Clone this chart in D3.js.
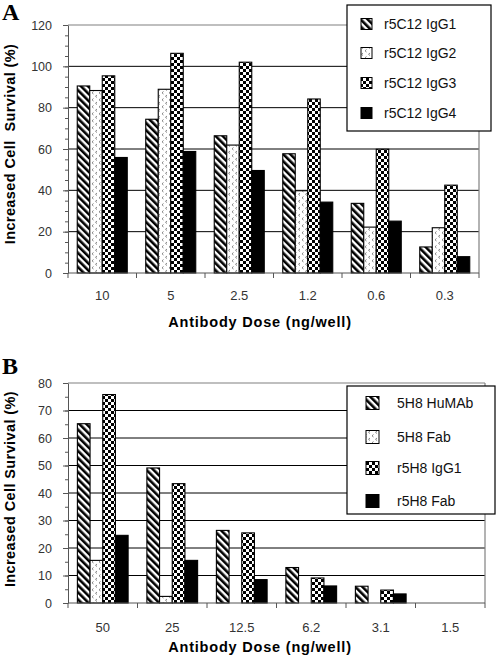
<!DOCTYPE html>
<html><head><meta charset="utf-8">
<script src="https://cdn.jsdelivr.net/npm/d3@7"></script>
<style>body{margin:0;background:#fff}svg{display:block}</style>
</head><body>
<svg id="c" width="500" height="658"></svg>
<script>
// ---- Data ----
const catsA = ["10", "5", "2.5", "1.2", "0.6", "0.3"];
const seriesA = ["r5C12 IgG1", "r5C12 IgG2", "r5C12 IgG3", "r5C12 IgG4"];
const igg1A = [90.5, 74.4, 66.4, 57.7, 33.7, 12.6];
const igg2A = [88.3, 88.9, 61.9, 39.8, 22.2, 21.9];
const igg3A = [95.4, 106.3, 102, 84.2, 59.9, 42.5];
const igg4A = [55.9, 58.8, 49.6, 34.3, 25.1, 7.9];
const yTicksA = [0, 20, 40, 60, 80, 100, 120];

const catsB = ["50", "25", "12.5", "6.2", "3.1", "1.5"];
const seriesB = ["5H8 HuMAb", "5H8 Fab", "r5H8 IgG1", "r5H8 Fab"];
const humabB = [65.2, 49.1, 26.4, 12.9, 6.1, 0];
const fabB = [15.5, 2.4, 0, 0, 0, 0];
const rigg1B = [75.8, 43.4, 25.5, 9.1, 4.7, 0];
const rfabB = [24.6, 15.5, 8.5, 6.2, 3.3, 0];
const yTicksB = [0, 10, 20, 30, 40, 50, 60, 70, 80];

const xTitle = "Antibody Dose (ng/well)";
const yTitleA = "Increased Cell\u00a0 Survival (%)";
const yTitleB = "Increased Cell Survival (%)";

// ---- Drawing ----
const svg = d3.select("#c");
const FONT = "'Liberation Sans', Arial, sans-serif";
const defs = svg.append("defs");

// stripes "\"
const ps = defs.append("pattern").attr("id", "stripe").attr("patternUnits", "userSpaceOnUse")
  .attr("width", 5).attr("height", 5).attr("patternTransform", "rotate(-45)");
ps.append("rect").attr("width", 5).attr("height", 5).attr("fill", "#fff");
ps.append("rect").attr("width", 2.6).attr("height", 5).attr("fill", "#000");
// light dotted
const pd = defs.append("pattern").attr("id", "dots").attr("patternUnits", "userSpaceOnUse")
  .attr("width", 7).attr("height", 7);
pd.append("rect").attr("width", 7).attr("height", 7).attr("fill", "#fff");
pd.append("path").attr("d", "M2.5,0.5 L1,1.8 L2.5,3").attr("stroke", "#777").attr("fill", "none").attr("stroke-width", 0.9);
pd.append("path").attr("d", "M6,4 L4.5,5.3 L6,6.5").attr("stroke", "#777").attr("fill", "none").attr("stroke-width", 0.9);
// checker
const pc = defs.append("pattern").attr("id", "check").attr("patternUnits", "userSpaceOnUse")
  .attr("width", 6).attr("height", 6);
pc.append("rect").attr("width", 6).attr("height", 6).attr("fill", "#fff");
pc.append("rect").attr("width", 3).attr("height", 3).attr("fill", "#000");
pc.append("rect").attr("x", 3).attr("y", 3).attr("width", 3).attr("height", 3).attr("fill", "#000");

const fills = ["url(#stripe)", "url(#dots)", "url(#check)", "#000"];

function panel(opt) {
  const { cats, series, data, yMax, yTicks, minorStep, L, R, T, B, letter, letterY,
          yTitle, yTitleY, xLabY, xTitleY, legend } = opt;
  const g = svg.append("g");
  const x0 = d3.scaleBand().domain(cats).range([L, R]).paddingInner(0.27).paddingOuter(0.135);
  const x1 = d3.scaleBand().domain(series).range([0, x0.bandwidth()]);
  const y = d3.scaleLinear().domain([0, yMax]).range([B, T]);

  // grid lines
  g.selectAll(".grid").data(yTicks.filter(v => v > 0 && v < yMax)).join("line")
    .attr("x1", L).attr("x2", R).attr("y1", d => y(d)).attr("y2", d => y(d))
    .attr("stroke", "#000").attr("stroke-width", 1);
  // border top & right
  g.append("line").attr("x1", L).attr("x2", R).attr("y1", y(yMax)).attr("y2", y(yMax))
    .attr("stroke", "#808080").attr("stroke-width", 1.2);
  g.append("line").attr("x1", R).attr("x2", R).attr("y1", y(yMax)).attr("y2", B)
    .attr("stroke", "#808080").attr("stroke-width", 1.2);

  // bars
  series.forEach((s, si) => {
    g.selectAll(".b" + si).data(cats.map((c, i) => ({ c, v: data[si][i] })).filter(d => d.v > 0)).join("rect")
      .attr("x", d => x0(d.c) + x1(s)).attr("width", x1.bandwidth())
      .attr("y", d => y(d.v)).attr("height", d => B - y(d.v))
      .attr("fill", fills[si]).attr("stroke", "#000").attr("stroke-width", 1.1);
  });

  // y axis
  const minor = d3.range(0, yMax + 0.001, minorStep);
  g.append("g").attr("transform", `translate(${L},0)`)
    .call(d3.axisLeft(y).tickValues(minor).tickSize(3).tickFormat(""))
    .call(a => a.select(".domain").remove())
    .call(a => a.selectAll("line").attr("stroke", "#555"));
  const ya = g.append("g").attr("transform", `translate(${L},0)`)
    .call(d3.axisLeft(y).tickValues(yTicks).tickSize(5).tickPadding(11).tickSizeOuter(0));
  ya.select(".domain").attr("stroke", "#555");
  ya.selectAll("line").attr("stroke", "#555");
  ya.selectAll("text").attr("font-family", FONT).attr("font-size", 12.5).attr("fill", "#333");

  // x axis
  const bounds = d3.range(cats.length + 1).map(i => L + i * x0.step());
  g.append("line").attr("x1", L).attr("x2", R).attr("y1", B).attr("y2", B).attr("stroke", "#555");
  g.selectAll(".xt").data(bounds).join("line")
    .attr("x1", d => d).attr("x2", d => d).attr("y1", B).attr("y2", B + 5).attr("stroke", "#555");
  g.selectAll(".xl").data(cats).join("text")
    .attr("x", d => x0(d) + x0.bandwidth() / 2).attr("y", xLabY)
    .attr("text-anchor", "middle").attr("font-family", FONT).attr("font-size", 13).attr("fill", "#333")
    .text(d => d);

  // titles
  g.append("text").attr("x", 260).attr("y", xTitleY).attr("text-anchor", "middle")
    .attr("font-family", FONT).attr("font-size", 14.5).attr("font-weight", "bold")
    .attr("letter-spacing", 0.8).text(xTitle);
  g.append("text").attr("transform", `translate(15,${yTitleY}) rotate(-90)`).attr("text-anchor", "middle")
    .attr("font-family", FONT).attr("font-size", 14.5).attr("font-weight", "bold")
    .attr("letter-spacing", 0.4).text(yTitle);
  g.append("text").attr("x", 2).attr("y", letterY).attr("font-family", "'Liberation Serif', 'Times New Roman', serif")
    .attr("font-size", 24).attr("font-weight", "bold").text(letter);

  // legend
  const lg = g.append("g");
  lg.append("rect").attr("x", legend.x).attr("y", legend.y).attr("width", legend.w).attr("height", legend.h)
    .attr("fill", "#fff").attr("stroke", "#000").attr("stroke-width", 1.2);
  series.forEach((s, si) => {
    const cy = legend.rows[si];
    lg.append("rect").attr("x", legend.sx).attr("y", cy - legend.ss / 2).attr("width", legend.ss).attr("height", legend.ss)
      .attr("fill", fills[si]).attr("stroke", "#000").attr("stroke-width", 1);
    lg.append("text").attr("x", legend.tx).attr("y", cy + 5).attr("font-family", FONT).attr("font-size", 14)
      .attr("fill", "#111").text(s);
  });
}

panel({
  cats: catsA, series: seriesA, data: [igg1A, igg2A, igg3A, igg4A], yMax: 120, yTicks: yTicksA, minorStep: 5,
  L: 68, R: 479, T: 25, B: 273, letter: "A", letterY: 20, yTitle: yTitleA, yTitleY: 144,
  xLabY: 300, xTitleY: 327,
  legend: { x: 347, y: 5, w: 144, h: 126, sx: 361, ss: 11, tx: 384, rows: [24, 53, 83, 113] }
});
panel({
  cats: catsB, series: seriesB, data: [humabB, fabB, rigg1B, rfabB], yMax: 80, yTicks: yTicksB, minorStep: 5,
  L: 68, R: 485, T: 383, B: 603, letter: "B", letterY: 374, yTitle: yTitleB, yTitleY: 489,
  xLabY: 632, xTitleY: 652,
  legend: { x: 347, y: 386, w: 148, h: 128, sx: 366, ss: 13, tx: 397, rows: [403, 437, 468, 501] }
});
</script>
</body></html>
